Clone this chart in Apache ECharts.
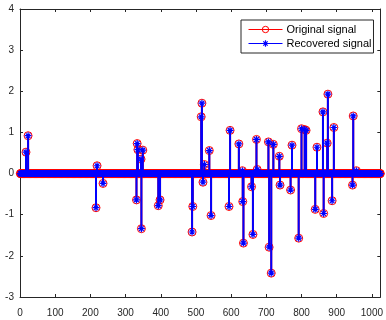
<!DOCTYPE html>
<html>
<head>
<meta charset="utf-8">
<script src="https://cdn.jsdelivr.net/npm/echarts@6/dist/echarts.min.js"></script>
<style>
  html, body { margin: 0; padding: 0; background: #fff; }
  #chart { width: 386px; height: 320px; }
</style>
</head>
<body>
<div id="chart"></div>
<script>
// signal length and the nonzero entries
const N = 1024;
const spikeIdx = [17, 23, 216, 219, 236, 331, 333, 335, 344, 345, 349, 393, 398,
    489, 491, 515, 517, 520, 524, 538, 543, 594, 597, 622, 632, 633, 635, 658, 662,
    672, 674, 706, 708, 714, 720, 737, 739, 769, 773, 792, 800, 809, 813, 839, 844,
    861, 863, 873, 875, 887, 892, 945, 947, 956];
const originalVal = [0.52, 0.92, -0.83, 0.19, -0.24, -0.64, 0.73, 0.58, 0.35, -1.34, 0.57, -0.78, -0.64,
    -1.42, -0.80, 1.38, 1.71, -0.21, 0.22, 0.56, -1.02, -0.80, 1.05, 0.72, 0.07, -0.68, -1.69, -0.32, -1.48,
    0.83, 0.10, 0.77, -1.79, -2.42, 0.71, 0.42, -0.28, -0.40, 0.69, -1.57, 1.09, 1.07, 1.05, -0.87, 0.64,
    1.50, -0.97, 0.74, 1.93, -0.66, 1.12, -0.28, 1.40, 0.07];
const recoveredVal = originalVal.slice();

const xTicks = [0, 100, 200, 300, 400, 500, 600, 700, 800, 900, 1000];

function fullSignal(vals) {
    const out = [];
    for (let i = 1; i <= N; i++) {
        const k = spikeIdx.indexOf(i);
        out.push([i, k >= 0 ? vals[k] : 0]);
    }
    return out;
}
const stems = vals => spikeIdx.map((x, i) => [x, vals[i]]);

const axisColor = "#262626";
const red = "#ff0000";
const blue = "#0000ff";
const star = "path://M5,0L5,10M0,5L10,5M1.6,1.6L8.4,8.4M8.4,1.6L1.6,8.4";

const circleStyle = { color: "transparent", borderColor: red, borderWidth: 1 };
const starStyle = { color: "transparent", borderColor: blue, borderWidth: 1.2 };

const chart = echarts.init(document.getElementById("chart"));

const xBase = {
    type: "value",
    min: 0,
    max: N,
    interval: 100,
    axisLine: { show: true, onZero: false, lineStyle: { color: axisColor, width: 1 } },
    axisTick: { show: true, inside: true, length: 3, lineStyle: { color: axisColor } },
    splitLine: { show: false }
};
const yBase = {
    type: "value",
    min: -3,
    max: 4,
    interval: 1,
    axisLine: { show: true, onZero: false, lineStyle: { color: axisColor, width: 1 } },
    axisTick: { show: true, inside: true, length: 3, lineStyle: { color: axisColor } },
    splitLine: { show: false }
};

chart.setOption({
    animation: false,
    textStyle: { fontFamily: "Liberation Sans, Arial, sans-serif" },
    grid: { left: 20, right: 2, top: 9, bottom: 23 },
    xAxis: [
        {
            ...xBase,
            position: "bottom",
            axisLabel: {
                color: axisColor,
                fontSize: 10,
                margin: 11,
                showMaxLabel: false,
                formatter: v => (xTicks.includes(v) ? String(v) : "")
            }
        },
        { ...xBase, position: "top", axisLabel: { show: false } }
    ],
    yAxis: [
        {
            ...yBase,
            position: "left",
            axisLabel: { color: axisColor, fontSize: 10, margin: 6 }
        },
        { ...yBase, position: "right", axisLabel: { show: false } }
    ],
    legend: {
        orient: "vertical",
        left: 241,
        top: 20,
        padding: [3, 2, 3, 7],
        itemWidth: 34,
        itemHeight: 8,
        itemGap: 1,
        borderColor: axisColor,
        borderWidth: 1,
        borderRadius: 0,
        backgroundColor: "#fff",
        textStyle: { color: "#000", fontSize: 11, lineHeight: 13, padding: [0, 0, 0, -1] },
        lineStyle: { opacity: 1, width: 1 },
        data: [
            { name: "Original signal", itemStyle: circleStyle },
            { name: "Recovered signal", itemStyle: starStyle }
        ]
    },
    series: [
        {
            name: "Original stem",
            type: "bar",
            data: stems(originalVal),
            barWidth: 2,
            barGap: "-100%",
            itemStyle: { color: red },
            z: 1
        },
        {
            name: "Original signal",
            type: "line",
            data: fullSignal(originalVal),
            symbol: "circle",
            symbolSize: 8,
            showSymbol: true,
            lineStyle: { color: red, opacity: 0 },
            itemStyle: circleStyle,
            z: 2
        },
        {
            name: "Recovered stem",
            type: "bar",
            data: stems(recoveredVal),
            barWidth: 2,
            barGap: "-100%",
            itemStyle: { color: blue },
            z: 3
        },
        {
            name: "Recovered signal",
            type: "line",
            data: fullSignal(recoveredVal),
            symbol: star,
            symbolSize: 7,
            showSymbol: true,
            lineStyle: { color: blue, opacity: 0 },
            itemStyle: starStyle,
            z: 4
        }
    ]
});
</script>
</body>
</html>
